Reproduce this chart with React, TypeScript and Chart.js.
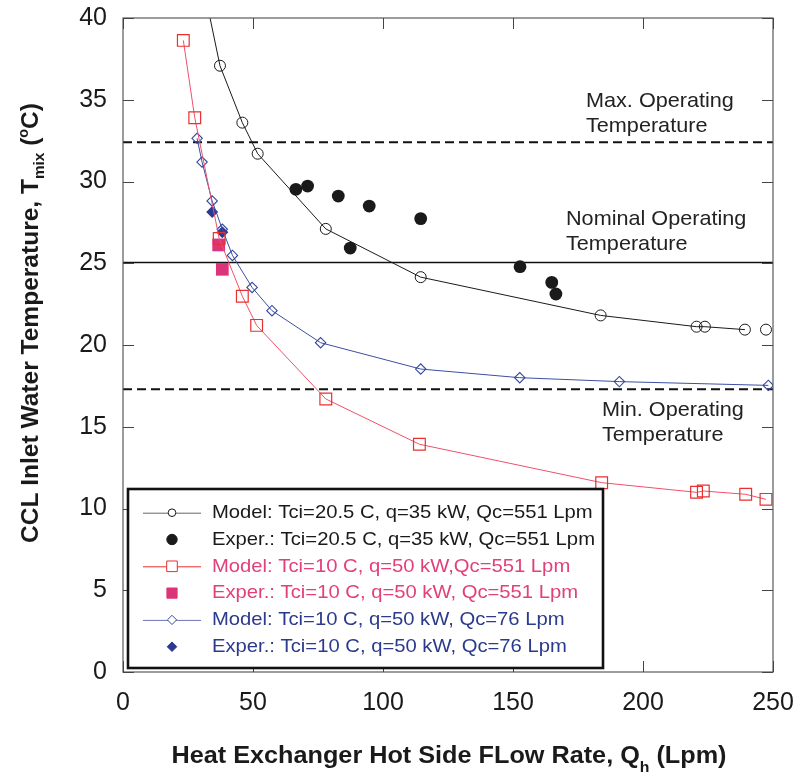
import { useEffect, useRef } from 'react';
import { Chart, registerables } from 'chart.js';

Chart.register(...registerables);

// ---------- data ----------
const xTickValues = [0, 50, 100, 150, 200, 250];
const yTickValues = [0, 5, 10, 15, 20, 25, 30, 35, 40];

// Model: Tci=20.5 C, q=35 kW, Qc=551 Lpm
const modelAFlow = [31.0, 37.3, 45.9, 51.8, 78.0, 114.5, 183.7, 220.6, 223.8, 239.2, 247.3];
const modelATemp = [41.9, 37.08, 33.6, 31.7, 27.1, 24.15, 21.81, 21.12, 21.12, 20.94, 20.94];
// Exper.: Tci=20.5 C, q=35 kW, Qc=551 Lpm
const experAFlow = [66.5, 71.0, 82.8, 87.4, 94.7, 114.5, 152.7, 164.9, 166.5];
const experATemp = [29.52, 29.72, 29.11, 25.93, 28.5, 27.73, 24.79, 23.83, 23.12];
// Model: Tci=10 C, q=50 kW, Qc=551 Lpm
const modelBFlow = [23.2, 27.6, 37.0, 45.9, 51.4, 78.0, 114.0, 184.1, 220.6, 223.2, 239.5, 247.3];
const modelBTemp = [38.63, 33.9, 26.52, 22.98, 21.2, 16.7, 13.93, 11.58, 10.99, 11.07, 10.87, 10.56];
// Exper.: Tci=10 C, q=50 kW, Qc=551 Lpm
const experBFlow = [36.8, 38.2];
const experBTemp = [26.12, 24.63];
// Model: Tci=10 C, q=50 kW, Qc=76 Lpm
const modelCFlow = [28.5, 30.4, 34.3, 38.2, 42.1, 49.65, 57.3, 76.0, 114.5, 152.6, 190.9, 248.2];
const modelCTemp = [32.64, 31.19, 28.81, 27.08, 25.48, 23.52, 22.1, 20.14, 18.53, 18.0, 17.76, 17.53];
// Exper.: Tci=10 C, q=50 kW, Qc=76 Lpm
const experCFlow = [34.3, 38.2];
const experCTemp = [28.13, 26.89];

// Operating temperature limits
const maxOperating = 32.4;
const nominalOperating = 25.05;
const minOperating = 17.3;

const seriesLabels = [
  'Model: Tci=20.5 C, q=35 kW, Qc=551 Lpm',
  'Exper.: Tci=20.5 C, q=35 kW, Qc=551 Lpm',
  'Model: Tci=10 C, q=50 kW,Qc=551 Lpm',
  'Exper.: Tci=10 C, q=50 kW, Qc=551 Lpm',
  'Model: Tci=10 C, q=50 kW, Qc=76 Lpm',
  'Exper.: Tci=10 C, q=50 kW, Qc=76 Lpm',
];
const maxLabel = ['Max. Operating', 'Temperature'];
const nominalLabel = ['Nominal Operating', 'Temperature'];
const minLabel = ['Min. Operating', 'Temperature'];

// ---------- helpers ----------
const pts = (xs: number[], ys: number[]) => xs.map((x, i) => ({ x, y: ys[i] }));
const FONT = "'Liberation Sans', Arial, Helvetica, sans-serif";

const C_BLACK = '#1a1a1a';
const C_RED_LINE = '#f0506a';
const C_RED_MARK = '#e8302e';
const C_MAGENTA = '#dc3478';
const C_BLUE_LINE = '#3b4fa3';
const C_BLUE_MARK = '#3346a0';
const C_NAVY = '#2b3990';
const legendTextColors = [C_BLACK, C_BLACK, '#e2407a', '#e2407a', '#2b3a8c', '#2b3a8c'];
const legendLineColors = ['#666666', null, '#e8302e', null, '#6d74b6', null];

function drawText(ctx: CanvasRenderingContext2D, s: string, x: number, y: number, font: string, color: string, align: 'left' | 'center' | 'right', sx = 1) {
  ctx.save();
  ctx.font = font;
  ctx.fillStyle = color;
  ctx.textBaseline = 'middle';
  ctx.textAlign = 'left';
  const w = ctx.measureText(s).width * sx;
  const left = align === 'left' ? x : align === 'center' ? x - w / 2 : x - w;
  ctx.translate(left, y);
  ctx.scale(sx, 1);
  ctx.fillText(s, 0, 0);
  ctx.restore();
  return w;
}

type Seg = { t: string; size: number; dy: number };
function drawRich(ctx: CanvasRenderingContext2D, segs: Seg[], cx: number, cy: number, rot: number, targetW: number, color: string) {
  ctx.save();
  ctx.translate(cx, cy);
  ctx.rotate(rot);
  ctx.fillStyle = color;
  ctx.textBaseline = 'alphabetic';
  ctx.textAlign = 'left';
  let total = 0;
  const widths = segs.map((s) => {
    ctx.font = `bold ${s.size}px ${FONT}`;
    const w = ctx.measureText(s.t).width;
    total += w;
    return w;
  });
  const sx = targetW / total;
  ctx.scale(sx, 1);
  let x = -total / 2;
  segs.forEach((s, i) => {
    ctx.font = `bold ${s.size}px ${FONT}`;
    ctx.fillText(s.t, x, s.dy);
    x += widths[i];
  });
  ctx.restore();
}

function drawMarker(ctx: CanvasRenderingContext2D, style: string, x: number, y: number, r: number, fill: string | null, stroke: string | null, lw: number) {
  ctx.beginPath();
  if (style === 'circle') ctx.arc(x, y, r, 0, Math.PI * 2);
  else if (style === 'rect') {
    const s = r * Math.SQRT1_2;
    ctx.rect(x - s, y - s, 2 * s, 2 * s);
  } else {
    ctx.moveTo(x - r, y);
    ctx.lineTo(x, y - r);
    ctx.lineTo(x + r, y);
    ctx.lineTo(x, y + r);
    ctx.closePath();
  }
  if (fill) {
    ctx.fillStyle = fill;
    ctx.fill();
  }
  if (stroke) {
    ctx.strokeStyle = stroke;
    ctx.lineWidth = lw;
    ctx.stroke();
  }
}

const decorPlugin = {
  id: 'decor',
  afterDraw(chart: any) {
    const ctx: CanvasRenderingContext2D = chart.ctx;
    const { left, right, top, bottom } = chart.chartArea;
    const xs = chart.scales.x;
    const ys = chart.scales.y;

    // frame
    ctx.save();
    ctx.strokeStyle = '#5a5a5a';
    ctx.lineWidth = 1.2;
    ctx.strokeRect(left, top, right - left, bottom - top);

    // inward ticks on all sides
    const tl = 11;
    ctx.lineWidth = 1;
    ctx.strokeStyle = '#444444';
    ctx.beginPath();
    yTickValues.forEach((v) => {
      const p = Math.round(ys.getPixelForValue(v)) + 0.5;
      ctx.moveTo(left, p);
      ctx.lineTo(left + tl, p);
      ctx.moveTo(right, p);
      ctx.lineTo(right - tl, p);
    });
    xTickValues.forEach((v) => {
      const p = Math.round(xs.getPixelForValue(v)) + 0.5;
      ctx.moveTo(p, top);
      ctx.lineTo(p, top + tl);
      ctx.moveTo(p, bottom);
      ctx.lineTo(p, bottom - tl);
    });
    ctx.stroke();
    ctx.restore();

    // tick labels
    const tickFont = `25px ${FONT}`;
    yTickValues.forEach((v) => {
      drawText(ctx, String(v), left - 16, ys.getPixelForValue(v), tickFont, '#1a1a1a', 'right');
    });
    xTickValues.forEach((v) => {
      drawText(ctx, String(v), xs.getPixelForValue(v), bottom + 31, tickFont, '#1a1a1a', 'center');
    });

    // axis titles
    drawRich(
      ctx,
      [
        { t: 'Heat Exchanger Hot Side FLow Rate, Q', size: 24, dy: 0 },
        { t: 'h', size: 15, dy: 9 },
        { t: ' (Lpm)', size: 24, dy: 0 },
      ],
      449, 763, 0, 555, '#1a1a1a'
    );
    drawRich(
      ctx,
      [
        { t: 'CCL Inlet Water Temperature, T', size: 24, dy: 0 },
        { t: 'mix', size: 15, dy: 6 },
        { t: ' (', size: 24, dy: 0 },
        { t: 'o', size: 14, dy: -10 },
        { t: 'C)', size: 24, dy: 0 },
      ],
      38, 323, -Math.PI / 2, 440, '#1a1a1a'
    );

    // annotations
    const annFont = `21px ${FONT}`;
    const annColor = '#222222';
    const put = (lines: string[], x: number, y: number) => {
      lines.forEach((l, i) => drawText(ctx, l, x, y + i * 25, annFont, annColor, 'left', 1.03));
    };
    put(maxLabel, 586, 101);
    put(nominalLabel, 566, 219);
    put(minLabel, 602, 410);

    // legend
    const bx = 128, by = 489, bw = 475, bh = 179;
    ctx.save();
    ctx.fillStyle = '#ffffff';
    ctx.fillRect(bx, by, bw, bh);
    ctx.strokeStyle = '#111111';
    ctx.lineWidth = 2.6;
    ctx.strokeRect(bx, by, bw, bh);
    ctx.restore();
    const legendR = [3.8, 5.2, 7.5, 7.2, 4.6, 4.8];
    const legendFont = `19px ${FONT}`;
    for (let i = 0; i < 6; i++) {
      const ds = chart.data.datasets[i];
      const y = 512.7 + i * 26.8;
      const lc = legendLineColors[i];
      if (lc) {
        ctx.save();
        ctx.strokeStyle = lc;
        ctx.lineWidth = 1;
        ctx.beginPath();
        ctx.moveTo(143, y + 0.5);
        ctx.lineTo(201, y + 0.5);
        ctx.stroke();
        ctx.restore();
      }
      const filled = ds.pointBackgroundColor && ds.pointBackgroundColor !== 'rgba(0,0,0,0)';
      ctx.save();
      drawMarker(ctx, ds.pointStyle, 172, y, legendR[i], filled ? ds.pointBackgroundColor : '#ffffff', ds.pointBorderColor, 1);
      ctx.restore();
      drawText(ctx, seriesLabels[i], 212, y, legendFont, legendTextColors[i], 'left', 1.065);
    }
  },
};

const hline = (v: number) => [{ x: 0, y: v }, { x: 250, y: v }];

export default function App() {
  const ref = useRef<HTMLCanvasElement>(null);
  useEffect(() => {
    const lastA = modelAFlow.length - 1;
    const chart = new Chart(ref.current as HTMLCanvasElement, {
      type: 'scatter',
      data: {
        datasets: [
          {
            label: seriesLabels[0],
            data: pts(modelAFlow, modelATemp),
            showLine: true,
            borderColor: C_BLACK,
            borderWidth: 1,
            pointStyle: 'circle',
            pointRadius: 5.5,
            pointBorderWidth: 1,
            pointBorderColor: C_BLACK,
            pointBackgroundColor: 'rgba(0,0,0,0)',
            segment: {
              borderColor: (c: any) => (c.p1DataIndex === lastA ? 'rgba(0,0,0,0)' : C_BLACK),
            },
          },
          {
            label: seriesLabels[1],
            data: pts(experAFlow, experATemp),
            showLine: false,
            pointStyle: 'circle',
            pointRadius: 6.4,
            pointBorderWidth: 0,
            pointBorderColor: C_BLACK,
            pointBackgroundColor: C_BLACK,
          },
          {
            label: seriesLabels[2],
            data: pts(modelBFlow, modelBTemp),
            showLine: true,
            borderColor: C_RED_LINE,
            borderWidth: 1,
            pointStyle: 'rect',
            pointRadius: 8.3,
            pointBorderWidth: 1.2,
            pointBorderColor: C_RED_MARK,
            pointBackgroundColor: 'rgba(0,0,0,0)',
          },
          {
            label: seriesLabels[3],
            data: pts(experBFlow, experBTemp),
            showLine: false,
            pointStyle: 'rect',
            pointRadius: 9,
            pointBorderWidth: 0,
            pointBorderColor: C_MAGENTA,
            pointBackgroundColor: C_MAGENTA,
          },
          {
            label: seriesLabels[4],
            data: pts(modelCFlow, modelCTemp),
            showLine: true,
            borderColor: C_BLUE_LINE,
            borderWidth: 1,
            pointStyle: 'rectRot',
            pointRadius: 5.2,
            pointBorderWidth: 1.1,
            pointBorderColor: C_BLUE_MARK,
            pointBackgroundColor: 'rgba(0,0,0,0)',
          },
          {
            label: seriesLabels[5],
            data: pts(experCFlow, experCTemp),
            showLine: false,
            pointStyle: 'rectRot',
            pointRadius: 6,
            pointBorderWidth: 0,
            pointBorderColor: C_NAVY,
            pointBackgroundColor: C_NAVY,
          },
          {
            label: 'max',
            data: hline(maxOperating),
            showLine: true,
            borderColor: '#111111',
            borderWidth: 2,
            borderDash: [9, 5],
            pointRadius: 0,
          },
          {
            label: 'nominal',
            data: hline(nominalOperating),
            showLine: true,
            borderColor: '#111111',
            borderWidth: 1.5,
            pointRadius: 0,
          },
          {
            label: 'min',
            data: hline(minOperating),
            showLine: true,
            borderColor: '#111111',
            borderWidth: 2,
            borderDash: [9, 5],
            pointRadius: 0,
          },
        ],
      },
      options: {
        animation: false,
        responsive: true,
        maintainAspectRatio: false,
        layout: { padding: { left: 0, right: 26, top: 18, bottom: 0 } },
        plugins: { legend: { display: false }, tooltip: { enabled: false } },
        elements: { line: { tension: 0 } },
        scales: {
          x: {
            type: 'linear',
            min: 0,
            max: 250,
            ticks: { stepSize: 50, display: false },
            grid: { display: false },
            border: { display: false },
            afterFit: (s: any) => {
              s.height = 101;
            },
          },
          y: {
            type: 'linear',
            min: 0,
            max: 40,
            ticks: { stepSize: 5, display: false },
            grid: { display: false },
            border: { display: false },
            afterFit: (s: any) => {
              s.width = 123;
            },
          },
        },
      },
      plugins: [decorPlugin],
    } as any);
    return () => chart.destroy();
  }, []);
  return (
    <div style={{ position: 'fixed', left: 0, top: 0, width: 799, height: 773, background: '#ffffff' }}>
      <canvas ref={ref} />
    </div>
  );
}
